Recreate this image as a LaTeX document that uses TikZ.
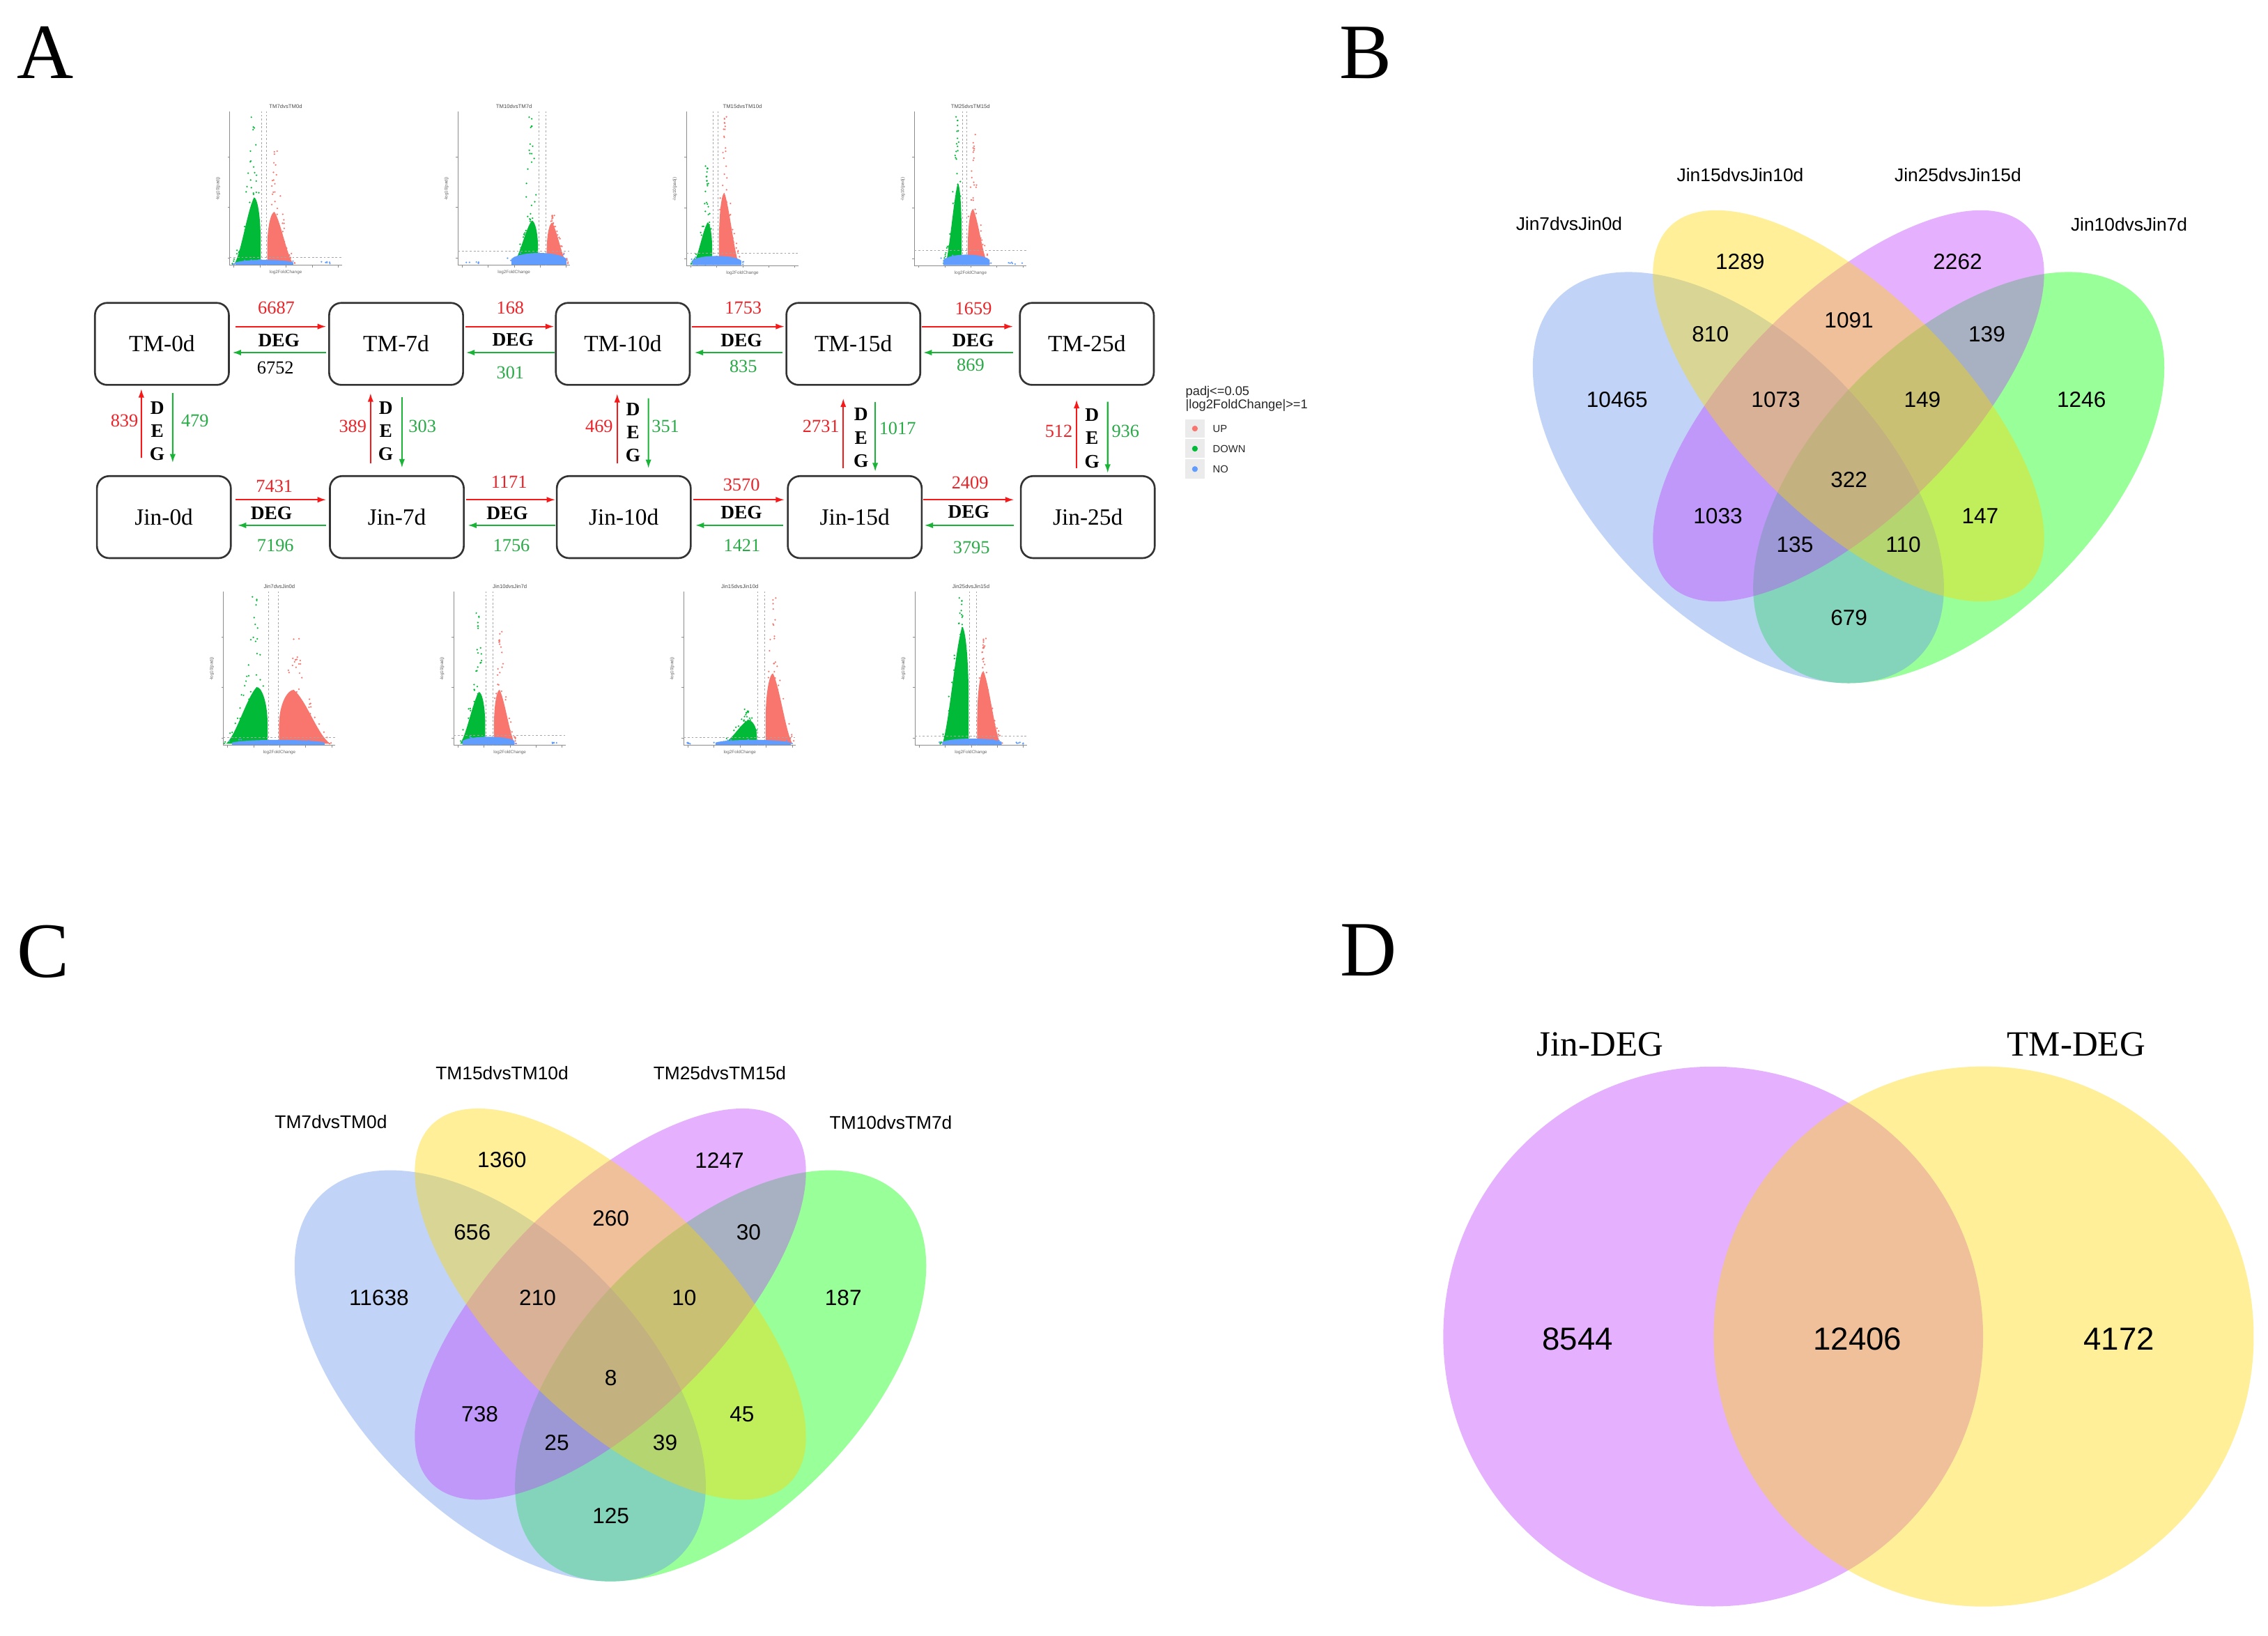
\documentclass[tikz,border=0pt]{standalone}
\usepackage{fontspec}
\setmainfont{Liberation Serif}
\newfontfamily\arial{Liberation Sans}
\usetikzlibrary{arrows.meta,calc}
\definecolor{numred}{RGB}{235,35,40}
\definecolor{numgreen}{RGB}{40,170,70}
\definecolor{arrred}{RGB}{245,25,25}
\definecolor{arrgreen}{RGB}{25,180,55}
\definecolor{vgreen}{RGB}{0,186,56}
\definecolor{vred}{RGB}{248,118,109}
\definecolor{vblue}{RGB}{97,156,255}
\definecolor{vnblue}{RGB}{100,149,237}
\definecolor{vngreen}{RGB}{0,255,0}
\definecolor{vnpurple}{RGB}{191,62,255}
\definecolor{vnyellow}{RGB}{255,215,0}
\definecolor{legbg}{RGB}{235,235,235}
\newcommand\fsz[1]{\fontsize{#1}{#1}\selectfont}
\tikzset{
 box/.style={draw=black!80, line width=0.75pt, rounded corners=5pt, minimum width=54.7pt, minimum height=33.5pt, inner sep=0pt, font=\fsz{9.5}},
 upnum/.style={text=numred, font=\fsz{7.5}, inner sep=0pt},
 dnnum/.style={text=numgreen, font=\fsz{7.5}, inner sep=0pt},
 blknum/.style={text=black, font=\fsz{7.5}, inner sep=0pt},
 deg/.style={font=\bfseries\fsz{7.8}, inner sep=0pt},
 vdeg/.style={font=\bfseries\fontsize{7.8}{9.45}\selectfont, align=center, inner sep=0pt},
 redarr/.style={draw=arrred, line width=0.6pt, -{Latex[length=3.6pt,width=2.4pt]}},
 greenarr/.style={draw=arrgreen, line width=0.6pt, -{Latex[length=3.6pt,width=2.4pt]}},
 vnum/.style={font=\arial\fsz{9}, inner sep=0pt},
 vset/.style={font=\arial\fsz{7.5}, inner sep=0pt},
 dnum/.style={font=\arial\fsz{13}, inner sep=0pt},
 dset/.style={font=\fsz{14.5}, inner sep=0pt},
 panel/.style={font=\fsz{32}, inner sep=0pt},
 leg/.style={font=\arial\fsz{5.2}, inner sep=0pt, anchor=west, text=black!85},
 legk/.style={font=\arial\fsz{4.2}, inner sep=0pt, anchor=west, text=black!85},
 vaxis/.style={draw=black!45, line width=0.25pt},
 vdash/.style={draw=black!35, line width=0.25pt, dash pattern=on 0.8pt off 0.8pt},
 vtiny/.style={font=\arial\fsz{2.2}, text=black!70, inner sep=0pt},
 vtinier/.style={font=\arial\fsz{1.8}, text=black!60, inner sep=0pt},
}
\pgfkeys{/volc/.cd,
 id/.store in=\vId, title/.store in=\vTitle,
 v1/.store in=\vA, v2/.store in=\vB,
 gL/.store in=\vgL, gH/.store in=\vgH, gT/.store in=\vgT,
 rR/.store in=\vrR, rH/.store in=\vrH, rT/.store in=\vrT,
 hd/.store in=\vhd, bL/.store in=\vbL, bR/.store in=\vbR, bH/.store in=\vbH,
 oL/.store in=\voL, oR/.store in=\voR}
\newcommand\volc[3]{%
\pgfkeys{/volc/.cd,hd=6,bH=6,oL=0,oR=0,#3}%
\begin{scope}[shift={(#1,#2)},yscale=-1]
 \draw[vaxis] (0,106.5) -- (0,0) -- (77.5,0);
 \foreach \t in {3,21,39,57,75}{\draw[vaxis] (\t,0) -- (\t,-1.4);}
 \foreach \t in {5,40,75}{\draw[vaxis] (0,\t) -- (-1.4,\t);}
 \node[vtiny] (\vId-t) at (38.75,110) {\vTitle};
 \node[vtinier] (\vId-x) at (38.75,-5) {log2FoldChange};
 \node[vtinier,rotate=90] (\vId-y) at (-8,53) {-log10(padj)};
 \draw[vdash] (\vA,0) -- (\vA,106.5);
 \draw[vdash] (\vB,0) -- (\vB,106.5);
 \pgfmathsetmacro\gw{\vA-\vgL}%
 \pgfmathsetmacro\gp{\vA-0.28*\gw}%
 \pgfmathsetmacro\rw{\vrR-\vB}%
 \pgfmathsetmacro\rp{\vB+0.3*\rw}%
 \fill[vgreen] (\vgL,1.2) .. controls ({\vgL+0.25*\gw},{0.2*\vgH}) and ({\gp-0.25*\gw},{0.8*\vgH}) .. (\gp,\vgH) .. controls ({\gp+0.12*\gw},\vgH) and ({\vA-0.6},{0.75*\vgH}) .. ({\vA-0.6},{0.35*\vgH}) -- ({\vA-0.6},1.2) -- cycle;
 \fill[vred] (\vrR,1.2) .. controls ({\vrR-0.25*\rw},{0.2*\vrH}) and ({\rp+0.25*\rw},{0.8*\vrH}) .. (\rp,\vrH) .. controls ({\rp-0.12*\rw},\vrH) and ({\vB+0.6},{0.75*\vrH}) .. ({\vB+0.6},{0.35*\vrH}) -- ({\vB+0.6},1.2) -- cycle;
 \foreach \i in {1,...,26}{%
  \pgfmathsetmacro\yy{0.6*\vgH+rnd*(\vgT-0.6*\vgH)}%
  \pgfmathsetmacro\xx{min(\vA-0.7,\gp+(rnd-0.6)*0.7*\gw*(\vgT-\yy)/(\vgT-0.6*\vgH+0.01))}%
  \fill[vgreen] (\xx,\yy) circle[radius=0.6];}
 \foreach \i in {1,...,20}{%
  \pgfmathsetmacro\ss{rnd}%
  \pgfmathsetmacro\xx{\vgL-1.5+\ss*(\gp-\vgL+1.5)}%
  \pgfmathsetmacro\yy{1.2+rnd*1.1*\vgH*\ss}%
  \fill[vgreen] (\xx,\yy) circle[radius=0.6];}
 \fill[vgreen] ({\gp-0.1*\gw},\vgT) circle[radius=0.6];
 \foreach \i in {1,...,26}{%
  \pgfmathsetmacro\yy{0.6*\vrH+rnd*(\vrT-0.6*\vrH)}%
  \pgfmathsetmacro\xx{max(\vB+0.7,\rp+(0.6-rnd)*0.7*\rw*(\vrT-\yy)/(\vrT-0.6*\vrH+0.01))}%
  \fill[vred] (\xx,\yy) circle[radius=0.6];}
 \foreach \i in {1,...,20}{%
  \pgfmathsetmacro\ss{rnd}%
  \pgfmathsetmacro\xx{\vrR+1.5-\ss*(\vrR-\rp+1.5)}%
  \pgfmathsetmacro\yy{1.2+rnd*1.1*\vrH*\ss}%
  \fill[vred] (\xx,\yy) circle[radius=0.6];}
 \fill[vred] ({\rp+0.1*\rw},\vrT) circle[radius=0.6];
 \fill[vblue] (\vbL,0.5) -- (\vbL,{0.45*\vbH}) .. controls ({\vbL+0.15*(\vbR-\vbL)},\vbH) and ({\vbR-0.15*(\vbR-\vbL)},\vbH) .. (\vbR,{0.45*\vbH}) -- (\vbR,0.5) -- cycle;
 \foreach \i in {1,...,12}{%
  \pgfmathsetmacro\xx{\vbL-3+rnd*(\vbR-\vbL+6)}%
  \pgfmathsetmacro\yy{0.6+rnd*0.8*\vbH}%
  \fill[vblue] (\xx,\yy) circle[radius=0.6];}
 \ifdim\voL pt<\voR pt
 \foreach \i in {1,...,6}{%
  \pgfmathsetmacro\xx{\voL+rnd*(\voR-\voL)}%
  \pgfmathsetmacro\yy{1+rnd*1.5}%
  \fill[vblue] (\xx,\yy) circle[radius=0.6];}
 \fi
 \draw[vdash] (0,\vhd) -- (77.5,\vhd);
\end{scope}}
\begin{document}
\begin{tikzpicture}[x=0.02076cm, y=-0.02076cm]
\pgfmathsetseed{4242}
\useasboundingbox (0,0) rectangle (1568,1131);
\fill[white] (0,0) rectangle (1568,1131);

% ---------- panel letters
\node[panel] (LA) at (31.4,36.1) {A};
\node[panel] (LB) at (944,36.4) {B};
\node[panel] (LC) at (30.1,657.9) {C};
\node[panel] (LD) at (946,657) {D};

% ---------- volcano plots
\volc{158.8}{183.5}{id=vt1,title=TM7dvsTM0d,v1=22,v2=25.4,gL=3.4,gH=47,gT=102.5,rR=43.9,rH=37,rT=79,hd=5.5,bL=4,bR=44,bH=4.5,oL=62,oR=70}
\volc{316.6}{183.5}{id=vt2,title=TM10dvsTM7d,v1=56,v2=60.8,gL=38.2,gH=31,gT=102.5,rR=75.4,rH=29.5,rT=34.5,hd=10,bL=37,bR=75,bH=10,oL=2,oR=16}
\volc{474.5}{183.8}{id=vt3,title=TM15dvsTM10d,v1=18.5,v2=22,gL=4.7,gH=30,gT=69,rR=36.4,rH=50.5,rT=103,hd=8.8,bL=4,bR=38,bH=8}
\volc{632.2}{183.8}{id=vt4,title=TM25dvsTM15d,v1=33.2,v2=36.3,gL=21.5,gH=57,gT=103,rR=50.7,rH=39.3,rT=90.8,hd=10.8,bL=20,bR=52,bH=9,oL=64,oR=75}
\volc{154.4}{515.4}{id=vb1,title=Jin7dvsJin0d,v1=31.2,v2=37.9,gL=2,gH=40.4,gT=102.7,rR=73.9,rH=38.5,rT=73.8,hd=5.6,bL=6,bR=70,bH=4.5}
\volc{313.7}{515.4}{id=vb2,title=Jin10dvsJin7d,v1=22.4,v2=27.2,gL=4.4,gH=37,gT=91.5,rR=42.3,rH=38.5,rT=78.7,hd=7.2,bL=6,bR=42,bH=7,oL=68,oR=72}
\volc{472.7}{515.4}{id=vb3,title=Jin15dvsJin10d,v1=51.2,v2=56,gL=27.2,gH=17.6,gT=25,rR=75.1,rH=49.8,rT=102,hd=5.6,bL=22,bR=74,bH=4.5,oL=2,oR=5}
\volc{632.5}{515.4}{id=vb4,title=Jin25dvsJin15d,v1=37.8,v2=42.5,gL=19.1,gH=82,gT=102,rR=59.1,rH=51.4,rT=74,hd=6.4,bL=19,bR=60,bH=5.5,oL=70,oR=75}

% ---------- boxes
\node[box] (TM0)  at (111.95,237.75) {TM-0d};
\node[box] (TM7)  at (273.85,237.75) {TM-7d};
\node[box] (TM10) at (430.6,237.75) {TM-10d};
\node[box] (TM15) at (589.95,237.75) {TM-15d};
\node[box] (TM25) at (751.4,237.75) {TM-25d};
\node[box] (Jin0)  at (113.3,357.5) {Jin-0d};
\node[box] (Jin7)  at (274.35,357.5) {Jin-7d};
\node[box] (Jin10) at (431.25,357.5) {Jin-10d};
\node[box] (Jin15) at (590.95,357.5) {Jin-15d};
\node[box] (Jin25) at (752.05,357.5) {Jin-25d};

% ---------- horizontal arrows, top row
\draw[redarr]   ($(TM0.east)+(3.9,-12)$)  -- ($(TM7.west)+(-1.3,-12)$);
\draw[greenarr] ($(TM7.west)+(-1.5,6)$)   -- ($(TM0.east)+(1.7,6)$);
\draw[redarr]   ($(TM7.east)+(0.8,-12)$)  -- ($(TM10.west)+(-0.5,-12)$);
\draw[greenarr] ($(TM10.west)+(-0.3,6)$)  -- ($(TM7.east)+(1.3,6)$);
\draw[redarr]   ($(TM10.east)+(0.7,-12)$) -- ($(TM15.west)+(-0.6,-12)$);
\draw[greenarr] ($(TM15.west)+(-2.3,6)$)  -- ($(TM10.east)+(2.5,6)$);
\draw[redarr]   ($(TM15.east)+(0.6,-12)$) -- ($(TM25.west)+(-4,-12)$);
\draw[greenarr] ($(TM25.west)+(-4.3,6)$)  -- ($(TM15.east)+(1.3,6)$);
% bottom row
\draw[redarr]   ($(Jin0.east)+(2.6,-12)$)  -- ($(Jin7.west)+(-1.8,-12)$);
\draw[greenarr] ($(Jin7.west)+(-1.8,5.7)$) -- ($(Jin0.east)+(3.9,5.7)$);
\draw[redarr]   ($(Jin7.east)+(0.8,-12)$)  -- ($(Jin10.west)+(-0.3,-12)$);
\draw[greenarr] ($(Jin10.west)+(-0.3,5.7)$) -- ($(Jin7.east)+(2.1,5.7)$);
\draw[redarr]   ($(Jin10.east)+(1,-12)$)  -- ($(Jin15.west)+(-1.6,-12)$);
\draw[greenarr] ($(Jin15.west)+(-2.5,5.7)$) -- ($(Jin10.east)+(2.5,5.7)$);
\draw[redarr]   ($(Jin15.east)+(0.2,-12)$) -- ($(Jin25.west)+(-4,-12)$);
\draw[greenarr] ($(Jin25.west)+(-4.3,5.7)$) -- ($(Jin15.east)+(1.1,5.7)$);

% ---------- vertical arrows
\draw[redarr]   ($(Jin0.north)+(-15.6,-12)$) -- ($(TM0.south)+(-14.25,2)$);
\draw[greenarr] ($(TM0.south)+(7.45,5)$)     -- ($(Jin0.north)+(6.1,-8.5)$);
\draw[redarr]   ($(Jin7.north)+(-18.15,-8)$) -- ($(TM7.south)+(-17.65,5)$);
\draw[greenarr] ($(TM7.south)+(4.05,7.8)$)   -- ($(Jin7.north)+(3.55,-5)$);
\draw[redarr]   ($(Jin10.north)+(-4.55,-8)$) -- ($(TM10.south)+(-3.9,5.4)$);
\draw[greenarr] ($(TM10.south)+(17.7,8.6)$)  -- ($(Jin10.north)+(17.05,-4.7)$);
\draw[redarr]   ($(Jin15.north)+(-7.95,-5)$) -- ($(TM15.south)+(-6.95,8.6)$);
\draw[greenarr] ($(TM15.south)+(15.15,11)$)  -- ($(Jin15.north)+(14.15,-2.4)$);
\draw[redarr]   ($(Jin25.north)+(-7.75,-5)$) -- ($(TM25.south)+(-7.1,9.5)$);
\draw[greenarr] ($(TM25.south)+(14.4,11)$)   -- ($(Jin25.north)+(13.75,-1.4)$);

% ---------- labels on horizontal arrows
\node[upnum]  (h1u) at (191,213) {6687};
\node[deg]    (h1d) at (192.8,235.3) {DEG};
\node[blknum] (h1g) at (190.4,254.5) {6752};
\node[upnum]  (h2u) at (352.8,213) {168};
\node[deg]    (h2d) at (354.7,234.8) {DEG};
\node[dnnum]  (h2g) at (352.8,257.7) {301};
\node[upnum]  (h3u) at (513.9,212.8) {1753};
\node[deg]    (h3d) at (512.6,235.2) {DEG};
\node[dnnum]  (h3g) at (513.9,253.4) {835};
\node[upnum]  (h4u) at (673,213.2) {1659};
\node[deg]    (h4d) at (672.8,235.5) {DEG};
\node[dnnum]  (h4g) at (671,252.4) {869};
\node[upnum]  (b1u) at (189.7,336) {7431};
\node[deg]    (b1d) at (187.6,355) {DEG};
\node[dnnum]  (b1g) at (190.4,377) {7196};
\node[upnum]  (b2u) at (352,333.2) {1171};
\node[deg]    (b2d) at (350.7,355) {DEG};
\node[dnnum]  (b2g) at (353.6,377) {1756};
\node[upnum]  (b3u) at (512.6,335.3) {3570};
\node[deg]    (b3d) at (512.6,354.5) {DEG};
\node[dnnum]  (b3g) at (513,377.3) {1421};
\node[upnum]  (b4u) at (670.6,334) {2409};
\node[deg]    (b4d) at (669.7,354) {DEG};
\node[dnnum]  (b4g) at (671.6,378.5) {3795};

% ---------- labels on vertical arrows
\node[upnum] (c1u) at (86,290.7) {839};
\node[vdeg]  (c1d) at (108.7,298) {D\\E\\G};
\node[dnnum] (c1g) at (134.8,290.7) {479};
\node[upnum] (c2u) at (243.9,294.7) {389};
\node[vdeg]  (c2d) at (266.7,298) {D\\E\\G};
\node[dnnum] (c2g) at (292,294.7) {303};
\node[upnum] (c3u) at (414.2,294.7) {469};
\node[vdeg]  (c3d) at (437.7,299) {D\\E\\G};
\node[dnnum] (c3g) at (460.1,294.6) {351};
\node[upnum] (c4u) at (567.6,295) {2731};
\node[vdeg]  (c4d) at (595.3,302.6) {D\\E\\G};
\node[dnnum] (c4g) at (620.5,296) {1017};
\node[upnum] (c5u) at (732,298) {512};
\node[vdeg]  (c5d) at (755,303) {D\\E\\G};
\node[dnnum] (c5g) at (778.1,298) {936};

% ---------- legend
\node[leg] (lg1) at (819.4,271) {padj<=0.05};
\node[leg] (lg2) at (819.4,280.4) {|log2FoldChange|>=1};
\fill[legbg] (819.4,289.8) rectangle (832.8,302.7);
\fill[legbg] (819.4,303.5) rectangle (832.8,316.3);
\fill[legbg] (819.4,317.6) rectangle (832.8,330.8);
\fill[vred]   (826.1,296.3) circle[radius=2];
\fill[vgreen] (826.1,310.2) circle[radius=2];
\fill[vblue]  (826.1,324.3) circle[radius=2];
\node[legk] (lgu) at (838.2,296.3) {UP};
\node[legk] (lgd) at (838.2,310.2) {DOWN};
\node[legk] (lgn) at (838.2,324.3) {NO};

% ---------- Venn B
\fill[vngreen, fill opacity=0.4, rotate around={45:(1354.2,330.2)}] (1354.2,330.2) ellipse [x radius=176, y radius=97];
\fill[vnblue, fill opacity=0.4, rotate around={-45:(1201.8,330.2)}] (1201.8,330.2) ellipse [x radius=176, y radius=97];
\fill[vnpurple, fill opacity=0.4, rotate around={45:(1278,280.6)}] (1278,280.6) ellipse [x radius=175, y radius=77];
\fill[vnyellow, fill opacity=0.4, rotate around={-45:(1278,280.6)}] (1278,280.6) ellipse [x radius=175, y radius=77];
\node[vset] (sB1) at (1084.8,154.8) {Jin7dvsJin0d};
\node[vset] (sB2) at (1203.1,120.9) {Jin15dvsJin10d};
\node[vset] (sB3) at (1353.6,120.9) {Jin25dvsJin15d};
\node[vset] (sB4) at (1471.9,155.3) {Jin10dvsJin7d};
\node[vnum] (nB01) at (1203,181.1) {1289};
\node[vnum] (nB02) at (1353.4,181.1) {2262};
\node[vnum] (nB03) at (1182.5,231) {810};
\node[vnum] (nB04) at (1278.3,221.2) {1091};
\node[vnum] (nB05) at (1373.6,231) {139};
\node[vnum] (nB06) at (1118,276.3) {10465};
\node[vnum] (nB07) at (1227.7,276.3) {1073};
\node[vnum] (nB08) at (1329,276.3) {149};
\node[vnum] (nB09) at (1439,276.3) {1246};
\node[vnum] (nB10) at (1278.3,331.8) {322};
\node[vnum] (nB11) at (1187.7,356.8) {1033};
\node[vnum] (nB12) at (1369,356.8) {147};
\node[vnum] (nB13) at (1240.9,376.5) {135};
\node[vnum] (nB14) at (1315.8,376.5) {110};
\node[vnum] (nB15) at (1278.3,426.9) {679};

% ---------- Venn C (same layout shifted by (-856,621))
\begin{scope}[shift={(-856,621)}]
\fill[vngreen, fill opacity=0.4, rotate around={45:(1354.2,330.2)}] (1354.2,330.2) ellipse [x radius=176, y radius=97];
\fill[vnblue, fill opacity=0.4, rotate around={-45:(1201.8,330.2)}] (1201.8,330.2) ellipse [x radius=176, y radius=97];
\fill[vnpurple, fill opacity=0.4, rotate around={45:(1278,280.6)}] (1278,280.6) ellipse [x radius=175, y radius=77];
\fill[vnyellow, fill opacity=0.4, rotate around={-45:(1278,280.6)}] (1278,280.6) ellipse [x radius=175, y radius=77];
\node[vset] (sC1) at (1084.8,154.8) {TM7dvsTM0d};
\node[vset] (sC2) at (1203.1,120.9) {TM15dvsTM10d};
\node[vset] (sC3) at (1353.6,120.9) {TM25dvsTM15d};
\node[vset] (sC4) at (1471.9,155.3) {TM10dvsTM7d};
\node[vnum] (nC01) at (1203,181.1) {1360};
\node[vnum] (nC02) at (1353.4,181.1) {1247};
\node[vnum] (nC03) at (1182.5,231) {656};
\node[vnum] (nC04) at (1278.3,221.2) {260};
\node[vnum] (nC05) at (1373.6,231) {30};
\node[vnum] (nC06) at (1118,276.3) {11638};
\node[vnum] (nC07) at (1227.7,276.3) {210};
\node[vnum] (nC08) at (1329,276.3) {10};
\node[vnum] (nC09) at (1439,276.3) {187};
\node[vnum] (nC10) at (1278.3,331.8) {8};
\node[vnum] (nC11) at (1187.7,356.8) {738};
\node[vnum] (nC12) at (1369,356.8) {45};
\node[vnum] (nC13) at (1240.9,376.5) {25};
\node[vnum] (nC14) at (1315.8,376.5) {39};
\node[vnum] (nC15) at (1278.3,426.9) {125};
\end{scope}

% ---------- Venn D
\fill[vnpurple, fill opacity=0.4] (1184.4,924) circle [radius=186.6];
\fill[vnyellow, fill opacity=0.4] (1371.4,924) circle [radius=186.7];
\node[dset] (sD1) at (1106.2,722.2) {Jin-DEG};
\node[dset] (sD2) at (1435.4,722.2) {TM-DEG};
\node[dnum] (nD1) at (1090.7,925.7) {8544};
\node[dnum] (nD2) at (1284.2,925.7) {12406};
\node[dnum] (nD3) at (1464.9,925.7) {4172};
\end{tikzpicture}
\end{document}
